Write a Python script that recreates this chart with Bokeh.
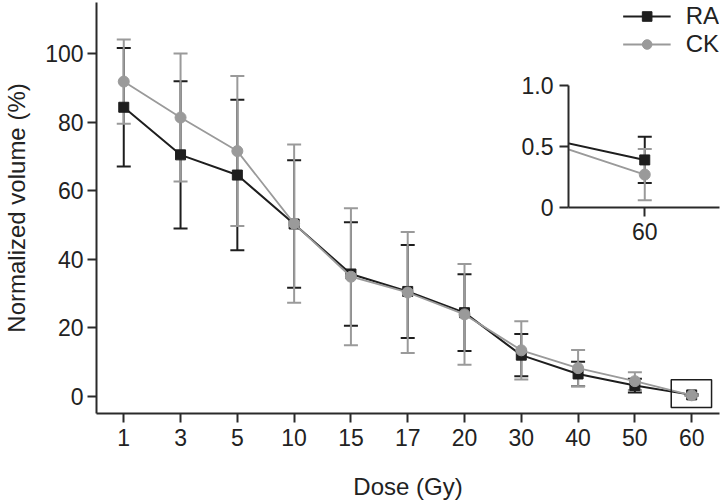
from bokeh.plotting import figure
from bokeh.models import (Range1d, FixedTicker, Whisker, TeeHead, ColumnDataSource,
                          Legend, LegendItem, BoxAnnotation)
from bokeh.embed import file_html
from bokeh.resources import INLINE

# ---- data ----
doses = ["1", "3", "5", "10", "15", "17", "20", "30", "40", "50", "60"]
ra_mean = [84.4, 70.5, 64.6, 50.3, 35.7, 30.6, 24.4, 12.0, 6.5, 3.1, 0.39]
ra_sd = [17.3, 21.5, 22.0, 18.6, 15.1, 13.6, 11.2, 6.2, 3.6, 2.0, 0.19]
ck_mean = [91.9, 81.4, 71.6, 50.4, 34.9, 30.3, 23.9, 13.4, 8.2, 4.4, 0.27]
ck_sd = [12.3, 18.7, 21.9, 23.1, 20.0, 17.7, 14.7, 8.5, 5.3, 2.6, 0.21]
y_ticks = [0, 20, 40, 60, 80, 100]
inset_y_ticks = [0, 0.5, 1.0]
inset_y_labels = ["0", "0.5", "1.0"]

BLACK = "#1e1e1e"
GREY = "#9a9a9a"
AX = "#2a2a2a"
FONT = "Liberation Sans"

xs = list(range(len(doses)))


def make_src(mean, sd):
    return ColumnDataSource(dict(
        x=xs, y=mean,
        upper=[m + s for m, s in zip(mean, sd)],
        lower=[m - s for m, s in zip(mean, sd)],
    ))


ra_src = make_src(ra_mean, ra_sd)
ck_src = make_src(ck_mean, ck_sd)


def style_axes(fig):
    for ax in fig.axis:
        ax.axis_line_color = AX
        ax.axis_line_width = 2
        ax.major_tick_line_color = AX
        ax.major_tick_line_width = 2
        ax.major_tick_out = 9
        ax.major_tick_in = 0
        ax.minor_tick_line_color = None
        ax.major_label_text_font = FONT
        ax.major_label_text_font_size = "23px"
        ax.major_label_text_color = "#222222"
        ax.axis_label_text_font = FONT
        ax.axis_label_text_font_size = "24px"
        ax.axis_label_text_font_style = "normal"
        ax.axis_label_text_color = "#222222"
    fig.xgrid.grid_line_color = None
    fig.ygrid.grid_line_color = None
    fig.outline_line_color = None


def draw_series(fig, src, color, marker, size, lw):
    w = Whisker(base="x", upper="upper", lower="lower", source=src,
                line_color=color, line_width=2,
                upper_head=TeeHead(size=14, line_color=color, line_width=2),
                lower_head=TeeHead(size=14, line_color=color, line_width=2))
    fig.add_layout(w)
    ln = fig.line("x", "y", source=src, line_color=color, line_width=lw)
    sc = fig.scatter("x", "y", source=src, marker=marker, size=size,
                     fill_color=color, line_color=color)
    return ln, sc


# ---- main figure ----
p = figure(width=721, height=502, output_backend="svg", toolbar_location=None,
           x_range=Range1d(-0.48, 10.49), y_range=Range1d(-5.05, 115.0),
           min_border_left=95, min_border_right=2, min_border_top=2,
           min_border_bottom=89)
p.background_fill_color = None
p.border_fill_color = None
style_axes(p)
p.xaxis.ticker = FixedTicker(ticks=xs)
p.xaxis.major_label_overrides = {i: d for i, d in zip(xs, doses)}
p.xaxis.axis_label = "Dose (Gy)"
p.xaxis.major_label_standoff = 6
p.xaxis.axis_label_standoff = 24
p.yaxis.ticker = FixedTicker(ticks=y_ticks)
p.yaxis.axis_label = "Normalized volume (%)"
p.yaxis.major_label_standoff = 4
p.yaxis.axis_label_standoff = 12

ra_l, ra_s = draw_series(p, ra_src, BLACK, "square", 10, 2)
ck_l, ck_s = draw_series(p, ck_src, GREY, "circle", 11, 1.8)

p.add_layout(BoxAnnotation(left=xs[-1] - 0.36, right=xs[-1] + 0.35,
                           bottom=ra_mean[-1] - 3.7, top=ra_mean[-1] + 4.4,
                           fill_color=None, line_color=BLACK, line_width=1.5,
                           line_alpha=1))

legend = Legend(items=[LegendItem(label="RA", renderers=[ra_l, ra_s]),
                       LegendItem(label="CK", renderers=[ck_l, ck_s])],
                location="top_right", border_line_color=None,
                background_fill_alpha=0, margin=0, padding=0, spacing=-2,
                glyph_width=48, glyph_height=24, label_height=24,
                label_standoff=15, label_text_font=FONT,
                label_text_font_size="24px", label_text_color="#222222")
p.add_layout(legend)

# ---- inset ----
inset = figure(width=203, height=175, output_backend="svg", toolbar_location=None,
               x_range=Range1d(9.95, 10.049), y_range=Range1d(0, 1.0),
               min_border_left=50, min_border_right=2, min_border_top=13,
               min_border_bottom=40)
inset.background_fill_alpha = 0
inset.border_fill_alpha = 0
style_axes(inset)
inset.xaxis.ticker = FixedTicker(ticks=[xs[-1]])
inset.xaxis.major_label_overrides = {xs[-1]: doses[-1]}
inset.xaxis.major_label_standoff = 6
inset.yaxis.ticker = FixedTicker(ticks=inset_y_ticks)
inset.yaxis.major_label_overrides = {t: l for t, l in zip(inset_y_ticks, inset_y_labels)}
inset.yaxis.major_label_standoff = 6
draw_series(inset, ra_src, BLACK, "square", 10, 2)
draw_series(inset, ck_src, GREY, "circle", 11, 1.8)
inset.styles = {"position": "absolute", "left": "518px", "top": "72px"}

open("out.html", "w").write(file_html([p, inset], INLINE))
